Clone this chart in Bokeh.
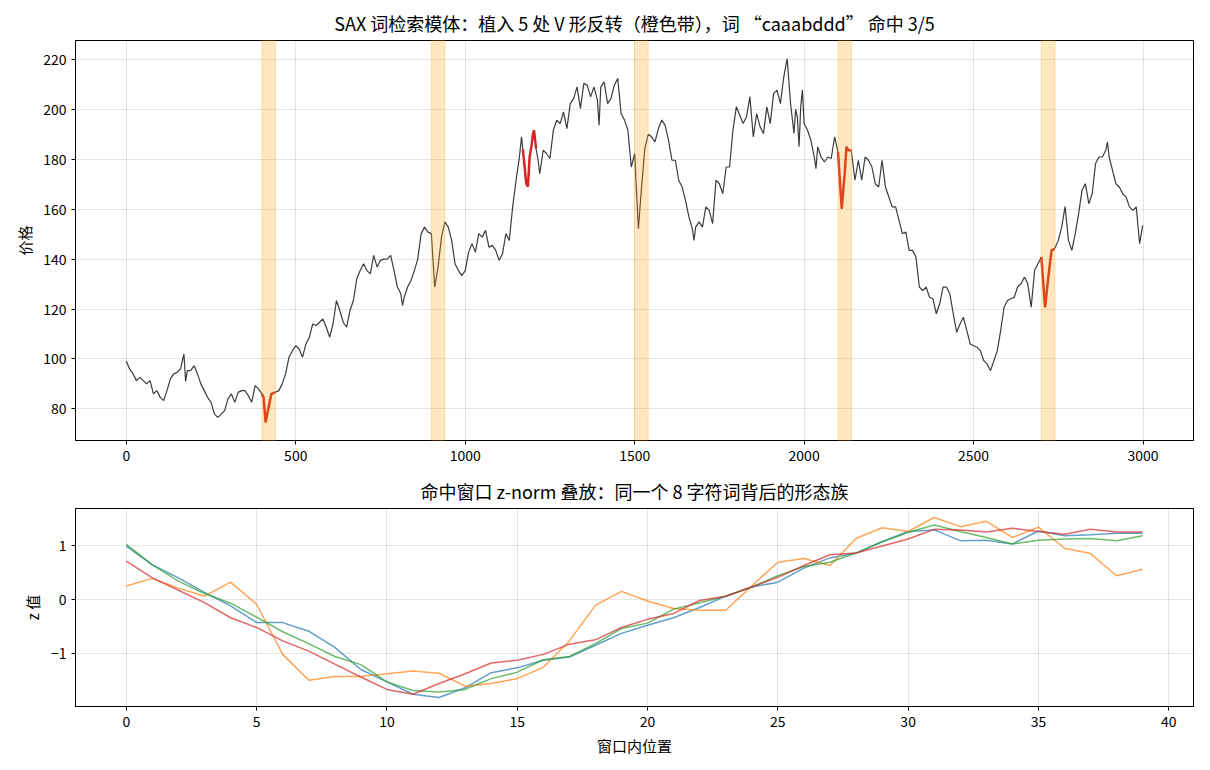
from bokeh.plotting import figure
from bokeh.layouts import column
from bokeh.models import BoxAnnotation, FixedTicker, Range1d
from bokeh.embed import file_html
from bokeh.resources import INLINE

FONT = "Noto Sans CJK SC"

# ---------------- data ----------------
price_idx = [0, 10, 20, 30, 40, 50, 60, 70, 80, 90, 100, 110, 120, 130, 140, 150, 160, 170, 175, 180,
             190, 200, 210, 220, 230, 240, 250, 260, 270, 280, 290, 300, 310, 320, 330, 340, 350, 360, 370, 380,
             390, 400, 405, 411, 420, 428, 439, 450, 460, 470, 480, 490, 500, 510, 520, 530, 540, 550, 560, 570,
             580, 590, 600, 610, 620, 630, 640, 650, 660, 670, 680, 690, 700, 710, 720, 730, 740, 750, 760, 770,
             780, 790, 800, 810, 815, 820, 830, 840, 850, 860, 870, 880, 890, 900, 910, 920, 930, 940, 950, 960,
             970, 980, 990, 1000, 1010, 1020, 1030, 1040, 1050, 1060, 1070, 1080, 1090, 1100, 1110, 1120, 1130, 1140, 1150, 1160,
             1166, 1170, 1176, 1180, 1185, 1190, 1195, 1200, 1203, 1206, 1209, 1215, 1220, 1230, 1240, 1250, 1260, 1270, 1280, 1290,
             1300, 1310, 1320, 1330, 1340, 1350, 1360, 1370, 1380, 1390, 1395, 1400, 1410, 1420, 1430, 1440, 1450, 1460, 1470, 1480,
             1490, 1500, 1511, 1520, 1530, 1540, 1550, 1560, 1570, 1580, 1590, 1600, 1610, 1620, 1630, 1640, 1650, 1660, 1670, 1675,
             1680, 1690, 1700, 1710, 1720, 1730, 1740, 1750, 1760, 1770, 1780, 1790, 1800, 1810, 1820, 1830, 1840, 1850, 1860, 1870,
             1880, 1890, 1900, 1910, 1920, 1930, 1940, 1950, 1960, 1970, 1975, 1980, 1985, 1990, 1995, 2000, 2010, 2020, 2030, 2035,
             2040, 2050, 2060, 2070, 2080, 2090, 2100, 2111, 2120, 2125, 2130, 2139, 2150, 2160, 2170, 2180, 2190, 2200, 2210, 2220,
             2230, 2240, 2250, 2260, 2270, 2280, 2290, 2300, 2310, 2320, 2330, 2340, 2350, 2360, 2370, 2380, 2390, 2400, 2410, 2420,
             2430, 2440, 2450, 2460, 2470, 2480, 2490, 2500, 2510, 2520, 2530, 2540, 2550, 2560, 2570, 2580, 2590, 2600, 2610, 2620,
             2630, 2640, 2650, 2660, 2670, 2680, 2690, 2700, 2711, 2720, 2730, 2739, 2750, 2760, 2770, 2780, 2790, 2800, 2810, 2820,
             2830, 2840, 2850, 2860, 2870, 2880, 2890, 2895, 2900, 2910, 2920, 2930, 2940, 2950, 2960, 2970, 2980, 2990, 2999]

price_val = [99.1, 95.9, 94.0, 91.3, 92.6, 91.3, 90.0, 91.3, 86.0, 87.3, 84.6, 83.3, 87.3, 92.0, 94.0, 94.6, 96.0, 102.0, 91.0, 95.3,
             95.3, 97.3, 94.0, 90.0, 87.3, 84.6, 82.6, 77.9, 76.6, 77.9, 79.3, 84.0, 86.0, 82.6, 86.6, 87.3, 87.3, 85.3, 82.6, 89.3,
             88.0, 86.0, 84.5, 74.6, 80.6, 86.0, 86.6, 87.3, 90.0, 94.0, 100.7, 103.3, 105.3, 104.0, 100.7, 106.0, 108.7, 114.0, 113.4, 114.7,
             116.0, 112.7, 108.7, 114.0, 123.4, 119.4, 114.7, 112.7, 119.4, 123.4, 132.1, 135.4, 138.1, 135.4, 134.1, 141.5, 136.8, 139.5, 140.0, 140.1,
             141.5, 135.4, 128.8, 126.1, 121.4, 124.7, 128.8, 131.4, 135.4, 140.1, 150.2, 152.8, 150.8, 150.2, 128.8, 137.0, 148.8, 154.9, 152.8, 147.5,
             138.1, 135.4, 133.4, 135.4, 142.8, 146.2, 142.8, 150.2, 148.8, 151.5, 144.8, 145.5, 143.5, 139.5, 142.1, 150.2, 147.5, 160.9, 171.6, 180.9,
             189.0, 184.0, 176.0, 170.2, 169.0, 180.9, 184.9, 190.3, 191.6, 188.0, 184.3, 179.6, 174.2, 183.6, 182.3, 180.3, 191.6, 195.7, 194.3, 199.0,
             192.3, 202.3, 204.3, 209.0, 200.3, 210.4, 209.7, 205.0, 209.0, 203.7, 193.6, 209.0, 211.0, 202.3, 204.3, 209.7, 212.4, 198.3, 195.7, 191.6,
             176.9, 182.3, 152.2, 168.3, 184.3, 190.0, 189.0, 187.0, 192.3, 195.7, 193.6, 187.6, 179.6, 179.6, 171.6, 168.9, 163.5, 156.9, 152.2, 147.5,
             152.8, 154.9, 152.8, 160.9, 159.5, 154.2, 171.6, 170.2, 166.2, 176.9, 176.9, 191.6, 201.0, 197.7, 194.3, 197.0, 205.0, 189.0, 198.3, 193.0,
             190.3, 201.0, 194.3, 206.4, 207.7, 202.3, 213.0, 220.3, 202.3, 190.3, 200.0, 197.0, 185.0, 201.0, 207.7, 194.3, 191.6, 187.6, 180.9, 176.2,
             185.0, 180.9, 178.9, 180.9, 180.3, 189.0, 182.9, 160.2, 174.8, 185.0, 183.6, 183.6, 171.6, 179.6, 171.6, 180.9, 179.6, 176.9, 170.2, 168.9,
             179.6, 168.9, 164.9, 160.9, 160.9, 155.5, 150.2, 150.8, 143.5, 143.5, 140.8, 128.8, 127.4, 128.8, 124.7, 124.1, 118.1, 122.1, 128.8, 128.8,
             126.1, 118.1, 110.7, 114.0, 116.7, 111.4, 106.0, 105.3, 104.7, 103.3, 99.3, 98.0, 95.3, 99.3, 103.3, 111.4, 120.7, 123.4, 124.1, 124.7,
             128.8, 130.1, 132.8, 130.1, 120.7, 135.4, 138.1, 140.8, 120.7, 132.1, 143.5, 144.1, 147.5, 152.8, 161.0, 147.5, 143.5, 150.2, 158.2, 167.6,
             170.2, 162.2, 166.2, 178.3, 180.9, 180.9, 183.6, 187.0, 180.9, 175.6, 170.2, 168.9, 166.2, 164.9, 160.9, 159.5, 160.9, 146.2, 153.5]

planted_starts = [400, 900, 1500, 2100, 2700]
hit_starts = [400, 1170, 2100, 2700]
window = 40

win_pos = list(range(40))
z_hit_400 = [0.99, 0.64, 0.40, 0.13, -0.12, -0.43, -0.43, -0.59, -0.89, -1.30, -1.53, -1.76, -1.82, -1.64, -1.36, -1.27, -1.13, -1.07, -0.85, -0.63,
             -0.48, -0.34, -0.15, 0.06, 0.23, 0.32, 0.58, 0.77, 0.86, 1.07, 1.26, 1.29, 1.09, 1.10, 1.03, 1.27, 1.18, 1.20, 1.23, 1.23]
z_hit_1170 = [0.25, 0.39, 0.21, 0.06, 0.32, -0.09, -1.02, -1.50, -1.43, -1.43, -1.38, -1.33, -1.37, -1.61, -1.56, -1.47, -1.26, -0.77, -0.11, 0.15,
              -0.03, -0.17, -0.20, -0.20, 0.25, 0.69, 0.76, 0.63, 1.13, 1.33, 1.26, 1.52, 1.35, 1.45, 1.15, 1.34, 0.95, 0.85, 0.44, 0.56]
z_hit_2100 = [1.02, 0.64, 0.34, 0.11, -0.07, -0.33, -0.60, -0.82, -1.06, -1.21, -1.53, -1.69, -1.72, -1.67, -1.47, -1.35, -1.12, -1.06, -0.82, -0.54,
              -0.44, -0.18, -0.06, 0.06, 0.23, 0.44, 0.61, 0.69, 0.86, 1.07, 1.24, 1.38, 1.26, 1.15, 1.03, 1.10, 1.12, 1.13, 1.09, 1.18]
z_hit_2700 = [0.71, 0.40, 0.17, -0.06, -0.34, -0.52, -0.77, -0.96, -1.20, -1.44, -1.67, -1.76, -1.56, -1.38, -1.18, -1.13, -1.02, -0.83, -0.75, -0.52,
              -0.37, -0.26, -0.02, 0.06, 0.23, 0.41, 0.63, 0.83, 0.86, 0.99, 1.12, 1.30, 1.29, 1.25, 1.32, 1.26, 1.21, 1.30, 1.25, 1.25]
z_series = [z_hit_400, z_hit_1170, z_hit_2100, z_hit_2700]

top_xticks = [0, 500, 1000, 1500, 2000, 2500, 3000]
top_yticks = [80, 100, 120, 140, 160, 180, 200, 220]
bot_xticks = [0, 5, 10, 15, 20, 25, 30, 35, 40]
bot_yticks = [-1, 0, 1]

title_top = "SAX 词检索模体：植入 5 处 V 形反转（橙色带），词 “caaabddd” 命中 3/5"
title_bot = "命中窗口 z-norm 叠放：同一个 8 字符词背后的形态族"

series_colors = ["#1f77b4", "#ff7f0e", "#2ca02c", "#d62728"]


def pad(lo, hi, frac=0.05):
    m = (hi - lo) * frac
    return lo - m, hi + m


def style(p):
    p.title.text_font = FONT
    p.title.text_font_size = "18px"
    p.title.text_font_style = "normal"
    p.title.align = "center"
    p.title.text_color = "black"
    for ax in p.axis:
        ax.major_label_text_font = FONT
        ax.major_label_text_font_size = "14px"
        ax.major_label_text_color = "black"
        ax.axis_line_color = "black"
        ax.major_tick_line_color = "black"
        ax.minor_tick_line_color = None
        ax.major_tick_out = 4
        ax.major_tick_in = 0
        ax.axis_label_text_font = FONT
        ax.axis_label_text_font_size = "15px"
        ax.axis_label_text_font_style = "normal"
        ax.axis_label_text_color = "black"
    p.grid.grid_line_color = "#000000"
    p.grid.grid_line_alpha = 0.1
    p.outline_line_color = "black"
    p.outline_line_alpha = 1.0
    p.background_fill_color = "white"
    p.border_fill_color = "white"


# ---------------- top panel ----------------
x0, x1 = pad(min(price_idx), max(price_idx))
y0, y1 = pad(min(price_val), max(price_val))
p1 = figure(width=1210, height=470, x_range=Range1d(x0, x1), y_range=Range1d(y0, y1),
            output_backend="svg", toolbar_location=None, title=title_top,
            min_border_left=75, min_border_right=17, min_border_top=40, min_border_bottom=30)
style(p1)
p1.yaxis.axis_label = "价格"
p1.xaxis.ticker = FixedTicker(ticks=top_xticks)
p1.yaxis.ticker = FixedTicker(ticks=top_yticks)

for s in planted_starts:
    p1.add_layout(BoxAnnotation(left=s, right=s + window, fill_color="orange", fill_alpha=0.25,
                                line_color="orange", line_alpha=0.3, line_width=1))

p1.line(price_idx, price_val, line_color="#1a1a1a", line_alpha=0.85, line_width=1.2)
for s in hit_starts:
    xs = [i for i in price_idx if s <= i <= s + window - 1]
    ys = [v for i, v in zip(price_idx, price_val) if s <= i <= s + window - 1]
    p1.line(xs, ys, line_color="#d62728", line_width=2.5)

# ---------------- bottom panel ----------------
allz = [v for ser in z_series for v in ser]
bx0, bx1 = pad(min(win_pos), max(win_pos))
by0, by1 = pad(min(allz), max(allz))
p2 = figure(width=1210, height=300, x_range=Range1d(bx0, bx1), y_range=Range1d(by0, by1),
            output_backend="svg", toolbar_location=None, title=title_bot,
            min_border_left=75, min_border_right=17, min_border_top=37, min_border_bottom=64)
style(p2)
p2.yaxis.axis_label = "z 值"
p2.xaxis.axis_label = "窗口内位置"
p2.xaxis.ticker = FixedTicker(ticks=bot_xticks)
p2.yaxis.ticker = FixedTicker(ticks=bot_yticks)
p2.yaxis.major_label_overrides = {-1: "−1"}

for ser, c in zip(z_series, series_colors):
    p2.line(win_pos, ser, line_color=c, line_alpha=0.7, line_width=1.5)

layout = column(p1, p2, spacing=0)
open("out.html", "w").write(file_html(layout, INLINE))
